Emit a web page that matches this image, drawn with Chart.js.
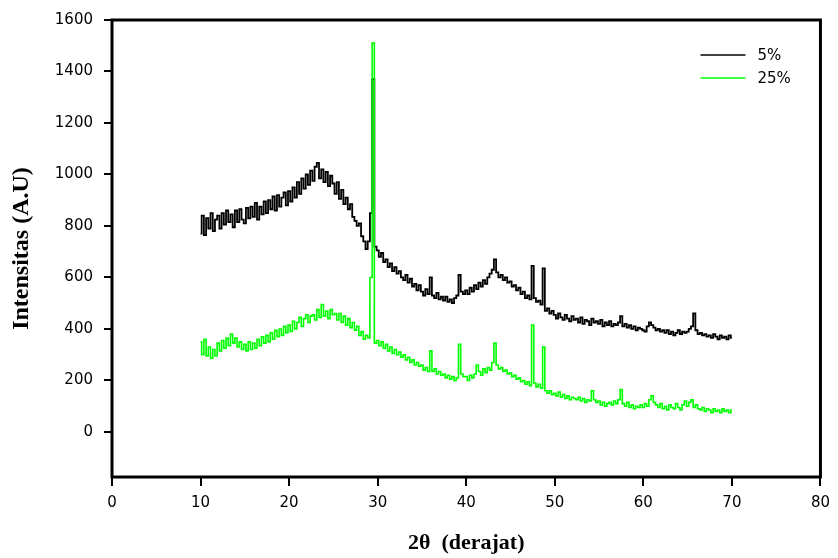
<!DOCTYPE html>
<html>
<head>
<meta charset="utf-8">
<title>XRD</title>
<script src="https://cdn.jsdelivr.net/npm/chart.js@4.4.1/dist/chart.umd.min.js"></script>
<style>
  body { margin: 0; background: #fff; }
  canvas { display: block; }
</style>
</head>
<body>
<canvas id="myChart" width="838" height="558"></canvas>
<script>
// 2theta grid, 10 -> 70 deg every 0.25
const thetaStart = 10
const thetaStep = 0.25

const seriesNames = ['5%', '25%']
const xTicks = [0, 10, 20, 30, 40, 50, 60, 70, 80]
const yTicks = [0, 200, 400, 600, 800, 1000, 1200, 1400, 1600]

// intensities, 10 values per row (2.5 deg per row)
const int5 = [
  770, 840, 765, 830, 790, 850, 780, 825, 840, 790,
  850, 805, 860, 815, 845, 795, 860, 815, 865, 825,
  810, 870, 830, 875, 835, 890, 825, 875, 845, 895,
  850, 900, 865, 915, 860, 920, 875, 910, 930, 880,
  935, 895, 950, 910, 970, 925, 985, 945, 1000, 960,
  1015, 975, 1030, 1045, 985, 1020, 970, 1010, 955, 995,
  965, 925, 970, 905, 940, 885, 910, 865, 885, 835,
  820, 800, 810, 760, 740, 710, 740, 850, 1370, 720,
  705, 680, 695, 660, 670, 640, 655, 625, 640, 615,
  625, 600, 590, 610, 580, 595, 565, 575, 550, 570,
  545, 530, 555, 535, 600, 530, 520, 540, 515, 525,
  510, 525, 505, 515, 500, 520, 530, 610, 545, 535,
  550, 535, 560, 545, 570, 555, 580, 565, 590, 575,
  600, 615, 630, 670, 620, 600, 610, 590, 600, 580,
  585, 565, 570, 550, 560, 535, 545, 520, 530, 515,
  645, 520, 505, 510, 495, 635, 470, 480, 460, 470,
  455, 440, 460, 445, 435, 455, 440, 430, 450, 435,
  440, 425, 445, 420, 435, 430, 415, 440, 425, 430,
  420, 435, 410, 425, 415, 430, 410, 420, 415, 425,
  450, 410, 420, 405, 415, 400, 410, 395, 405, 400,
  395, 390, 410, 425, 415, 405, 395, 400, 390, 395,
  385, 395, 380, 390, 375, 385, 395, 380, 390, 385,
  390, 400, 410, 460, 395, 380, 385, 375, 380, 370,
  375, 365, 380, 370, 360, 375, 365, 370, 360, 375,
  365
]

const int25 = [
  350, 300, 360, 295, 330, 285, 320, 295, 345, 315,
  355, 325, 365, 335, 380, 345, 365, 330, 350, 320,
  340, 315, 350, 320, 345, 325, 360, 335, 370, 345,
  375, 350, 385, 360, 395, 370, 400, 375, 410, 385,
  415, 390, 430, 400, 425, 445, 410, 440, 455, 425,
  450, 455, 435, 475, 445, 495, 450, 470, 440, 475,
  455, 460, 435, 460, 425, 450, 415, 440, 405, 425,
  395, 410, 375, 390, 360, 375, 365, 600, 1510, 345,
  355, 335, 350, 325, 340, 315, 330, 305, 320, 300,
  310, 290, 300, 280, 290, 270, 280, 260, 270, 255,
  260, 240, 250, 235, 315, 235, 245, 225, 235, 220,
  225, 210, 220, 205, 215, 200, 210, 340, 225, 215,
  215, 200, 220, 210, 225, 260, 235, 220, 245, 230,
  250, 240, 270, 345, 260, 245, 250, 235, 240, 225,
  230, 215, 220, 205, 210, 195, 200, 185, 195, 180,
  415, 190, 175, 185, 170, 330, 160, 150, 160, 145,
  150, 140, 155, 135, 145, 130, 140, 125, 135, 130,
  125, 135, 120, 130, 115, 125, 120, 160, 125, 115,
  120, 105, 115, 100, 110, 115, 105, 120, 110, 125,
  165, 110, 100, 115, 95, 105, 90, 100, 95, 105,
  95, 110, 100, 125, 140, 115, 105, 95, 110, 90,
  100, 85, 105, 95, 90, 110, 95, 85, 105, 120,
  100, 115, 125, 95, 105, 90, 85, 95, 80, 90,
  85, 75, 90, 80, 85, 75, 90, 80, 85, 75,
  85
]

const lineColors = ['#000000', '#00ff00']

function toPoints(values) {
  let pts = []
  for (let i = 0; i < values.length; i++) {
    pts.push({ x: thetaStart + i * thetaStep, y: values[i] })
  }
  return pts
}

const tickFont = { family: 'DejaVu Sans', size: 15 }

// frame + legend drawn by hand (legend sits inside the plot)
var framePlugin = {
  id: 'frame',
  afterDraw(chart) {
    var c = chart.ctx
    var a = chart.chartArea
    c.save()
    c.strokeStyle = '#000'
    c.lineWidth = 3
    c.strokeRect(a.left, a.top, a.right - a.left, a.bottom - a.top)

    c.font = '15px "DejaVu Sans"'
    c.textBaseline = 'middle'
    c.lineWidth = 1.5
    for (let i = 0; i < seriesNames.length; i++) {
      let y = a.top + 35 + i * 23
      c.strokeStyle = lineColors[i]
      c.beginPath()
      c.moveTo(a.right - 120, y)
      c.lineTo(a.right - 75, y)
      c.stroke()
      c.fillStyle = '#000'
      c.fillText(seriesNames[i], a.right - 63, y + 1)
    }
    c.restore()
  }
}

var ctx = document.getElementById('myChart').getContext('2d')
var myChart = new Chart(ctx, {
  type: 'line',
  data: {
    datasets: [{
      label: seriesNames[0],
      data: toPoints(int5),
      borderColor: lineColors[0],
      borderWidth: 1.8,
      pointRadius: 0,
      stepped: 'middle',
      order: 2
    }, {
      label: seriesNames[1],
      data: toPoints(int25),
      borderColor: lineColors[1],
      borderWidth: 1.6,
      pointRadius: 0,
      stepped: 'middle',
      order: 1
    }]
  },
  options: {
    responsive: false,
    animation: false,
    layout: { padding: { top: 17, right: 8, left: 0, bottom: 0 } },
    plugins: {
      legend: { display: false },
      tooltip: { enabled: false }
    },
    scales: {
      x: {
        type: 'linear',
        min: 0,
        max: 80,
        afterBuildTicks: s => { s.ticks = xTicks.map(v => ({ value: v })) },
        afterFit: s => { s.height = 81 },
        border: { display: false },
        grid: { drawOnChartArea: false, drawTicks: true, tickLength: 9, color: '#000', lineWidth: 2 },
        ticks: { color: '#000', font: tickFont, padding: 8, maxRotation: 0, callback: v => String(v) },
        title: {
          display: true, text: '2\u03b8  (derajat)', color: '#000',
          font: { family: 'Liberation Serif', size: 22, weight: 'bold' }, padding: { bottom: 1 }
        }
      },
      y: {
        min: -175,
        max: 1600,
        afterBuildTicks: s => { s.ticks = yTicks.map(v => ({ value: v })) },
        afterFit: s => { s.width = 112 },
        border: { display: false },
        grid: { drawOnChartArea: false, drawTicks: true, tickLength: 8, color: '#000', lineWidth: 2 },
        ticks: { color: '#000', font: tickFont, padding: 11, callback: v => String(v) },
        title: {
          display: true, text: 'Intensitas (A.U)', color: '#000',
          font: { family: 'Liberation Serif', size: 24, weight: 'bold' }, padding: { top: 7 }
        }
      }
    }
  },
  plugins: [framePlugin]
})
</script>
</body>
</html>
